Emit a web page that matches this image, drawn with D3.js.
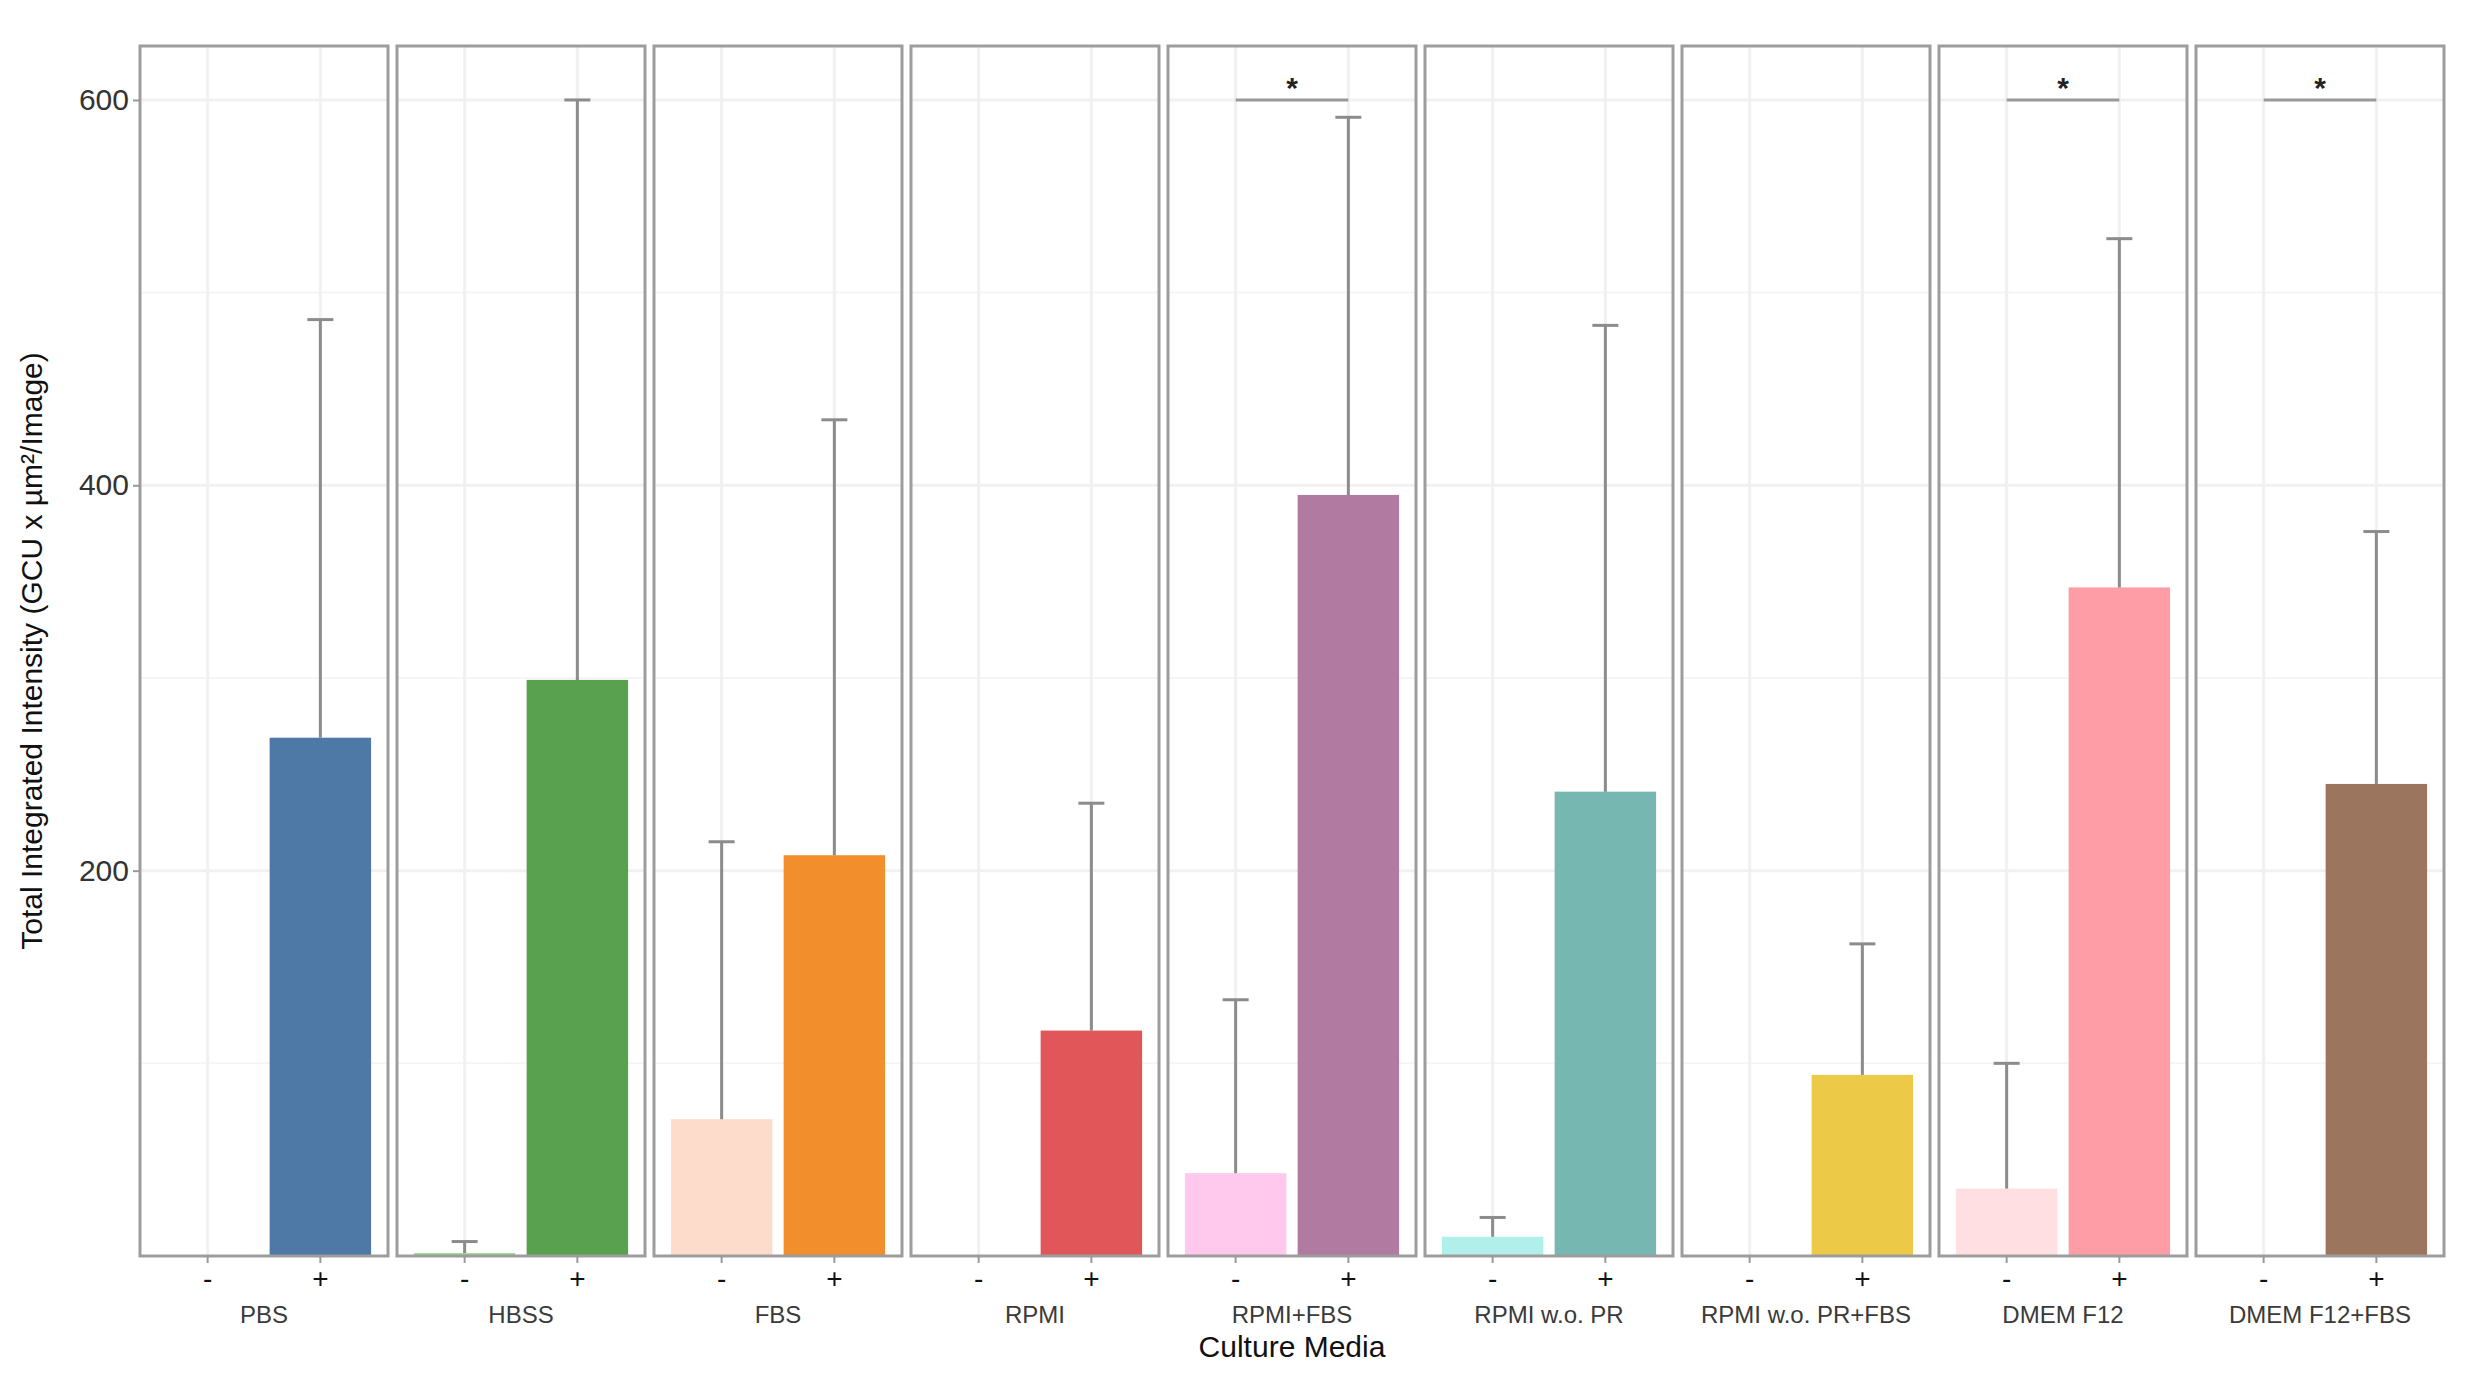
<!DOCTYPE html>
<html>
<head>
<meta charset="utf-8">
<script src="https://cdn.jsdelivr.net/npm/d3@7"></script>
<style>
  body { margin: 0; background: #fff; }
  svg { display: block; font-family: "Liberation Sans", Arial, sans-serif; }
</style>
</head>
<body>
<div id="chart"></div>
<script>
// culture media (facets) and treatment levels
const media = ["PBS", "HBSS", "FBS", "RPMI", "RPMI+FBS", "RPMI w.o. PR", "RPMI w.o. PR+FBS", "DMEM F12", "DMEM F12+FBS"];
const treatments = ["-", "+"];

// bar heights (mean) and upper end of error bars
const negMeans = [0, 1.5, 71, 0, 43, 10, 0, 35, 0];
const negUpper = [null, 7.5, 215, null, 133, 20, null, 100, null];
const posMeans = [269, 299, 208, 117, 395, 241, 94, 347, 245];
const posUpper = [486, 600, 434, 235, 591, 483, 162, 528, 376];

// fill colours
const negColors = ["#a0cbe8", "#97d88a", "#fddccc", "#ff9d9a", "#ffc8ec", "#b1f0ea", "#f1ce63", "#ffdfe2", "#d7b5a6"];
const posColors = ["#4e79a7", "#59a14f", "#f28e2b", "#e15759", "#b07aa1", "#76b7b2", "#edc948", "#ff9da7", "#9c755f"];

// significance brackets
const significant = [false, false, false, false, true, false, false, true, true];
const sigLevel = 600;

const yTicks = [200, 400, 600];
const yMinor = [100, 300, 500];

const W = 2491, H = 1384;
const margin = {top: 46, right: 47, bottom: 128, left: 140};

const svg = d3.select("#chart").append("svg")
    .attr("width", W)
    .attr("height", H);

// panel scale
const xPanel = d3.scaleBand()
    .domain(media)
    .range([margin.left, W - margin.right])
    .paddingInner(0.035)
    .paddingOuter(0);

const bw = xPanel.bandwidth();

// inner scale (- / +)
const xInner = d3.scaleBand()
    .domain(treatments)
    .range([0, bw])
    .paddingInner(0.1)
    .paddingOuter(0.15);

const y = d3.scaleLinear()
    .domain([0, 628])
    .range([H - margin.bottom, margin.top]);

// build rows per panel
const panels = media.map((m, i) => ({
    name: m,
    bars: [
        {t: "-", mean: negMeans[i], upper: negUpper[i], color: negColors[i]},
        {t: "+", mean: posMeans[i], upper: posUpper[i], color: posColors[i]}
    ],
    sig: significant[i]
}));

const panel = svg.selectAll("g.panel")
    .data(panels)
    .join("g")
    .attr("class", "panel")
    .attr("transform", d => "translate(" + xPanel(d.name) + ",0)");

// grid lines
panel.each(function () {
    let g = d3.select(this);
    g.selectAll("line.minor")
        .data(yMinor)
        .join("line")
        .attr("x1", 0).attr("x2", bw)
        .attr("y1", d => y(d)).attr("y2", d => y(d))
        .attr("stroke", "#f5f5f5")
        .attr("stroke-width", 2);
    g.selectAll("line.major")
        .data(yTicks)
        .join("line")
        .attr("x1", 0).attr("x2", bw)
        .attr("y1", d => y(d)).attr("y2", d => y(d))
        .attr("stroke", "#f1f1f1")
        .attr("stroke-width", 3);
    g.selectAll("line.vgrid")
        .data(treatments)
        .join("line")
        .attr("x1", d => xInner(d) + xInner.bandwidth() / 2)
        .attr("x2", d => xInner(d) + xInner.bandwidth() / 2)
        .attr("y1", y.range()[1]).attr("y2", y.range()[0])
        .attr("stroke", "#f1f1f1")
        .attr("stroke-width", 3);
});

// bars
panel.selectAll("rect.bar")
    .data(d => d.bars.filter(b => b.mean > 0))
    .join("rect")
    .attr("class", "bar")
    .attr("x", d => xInner(d.t))
    .attr("width", xInner.bandwidth())
    .attr("y", d => y(d.mean))
    .attr("height", d => y(0) - y(d.mean))
    .attr("fill", d => d.color);

// error bars (upper half only)
const capW = 26;
const err = panel.selectAll("g.err")
    .data(d => d.bars.filter(b => b.upper !== null))
    .join("g")
    .attr("class", "err")
    .attr("transform", d => "translate(" + (xInner(d.t) + xInner.bandwidth() / 2) + ",0)");

err.append("line")
    .attr("x1", 0).attr("x2", 0)
    .attr("y1", d => y(d.mean))
    .attr("y2", d => y(d.upper))
    .attr("stroke", "#8c8c8c")
    .attr("stroke-width", 3);

err.append("line")
    .attr("x1", -capW / 2).attr("x2", capW / 2)
    .attr("y1", d => y(d.upper))
    .attr("y2", d => y(d.upper))
    .attr("stroke", "#8c8c8c")
    .attr("stroke-width", 3);

// significance brackets
const sig = panel.filter(d => d.sig);
const cNeg = xInner("-") + xInner.bandwidth() / 2;
const cPos = xInner("+") + xInner.bandwidth() / 2;
sig.append("line")
    .attr("x1", cNeg).attr("x2", cPos)
    .attr("y1", y(sigLevel)).attr("y2", y(sigLevel))
    .attr("stroke", "#9a9a9a")
    .attr("stroke-width", 3);
sig.append("text")
    .attr("x", (cNeg + cPos) / 2)
    .attr("y", y(sigLevel) - 2)
    .attr("text-anchor", "middle")
    .attr("font-size", 30)
    .attr("font-weight", "bold")
    .attr("fill", "#222")
    .text("*");

// panel borders
panel.append("rect")
    .attr("x", 0)
    .attr("y", y.range()[1])
    .attr("width", bw)
    .attr("height", y.range()[0] - y.range()[1])
    .attr("fill", "none")
    .attr("stroke", "#9d9d9d")
    .attr("stroke-width", 3);

// x axis per panel
panel.append("g")
    .attr("transform", "translate(0," + y(0) + ")")
    .call(d3.axisBottom(xInner).tickSize(7).tickPadding(5))
    .call(g => g.select(".domain").remove())
    .call(g => g.selectAll(".tick line").attr("stroke", "#999").attr("stroke-width", 2))
    .call(g => g.selectAll(".tick text")
        .attr("font-size", 28)
        .attr("font-family", "Liberation Sans, Arial, sans-serif")
        .attr("fill", "#111"));

// strip labels below
panel.append("text")
    .attr("x", bw / 2)
    .attr("y", 1323)
    .attr("text-anchor", "middle")
    .attr("font-size", 24)
    .attr("fill", "#3a3a3a")
    .text(d => d.name);

// y axis
svg.append("g")
    .attr("transform", "translate(" + margin.left + ",0)")
    .call(d3.axisLeft(y).tickValues(yTicks).tickSize(7).tickPadding(4))
    .call(g => g.select(".domain").remove())
    .call(g => g.selectAll(".tick line").attr("stroke", "#999").attr("stroke-width", 2))
    .call(g => g.selectAll(".tick text")
        .attr("font-size", 30)
        .attr("font-family", "Liberation Sans, Arial, sans-serif")
        .attr("fill", "#333"));

// axis titles
svg.append("text")
    .attr("x", (margin.left + W - margin.right) / 2)
    .attr("y", 1357)
    .attr("text-anchor", "middle")
    .attr("font-size", 30)
    .attr("fill", "#111")
    .text("Culture Media");

svg.append("text")
    .attr("transform", "translate(42," + ((y.range()[0] + y.range()[1]) / 2) + ") rotate(-90)")
    .attr("text-anchor", "middle")
    .attr("font-size", 30)
    .attr("fill", "#111")
    .text("Total Integrated Intensity (GCU x µm²/Image)");
</script>
</body>
</html>
